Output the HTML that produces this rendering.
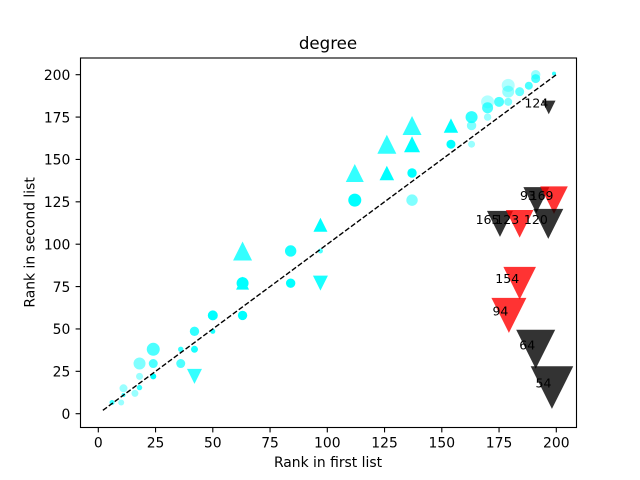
<!DOCTYPE html>
<html lang="en">
<head>
<meta charset="utf-8">
<title>degree</title>
<style>
html,body{margin:0;padding:0;background:#fff;}
svg{display:block;font-family:"DejaVu Sans","Liberation Sans",sans-serif;}
</style>
</head>
<body>
<svg id="chart" width="640" height="480" viewBox="0 0 640 480" xmlns="http://www.w3.org/2000/svg">
  <rect x="0" y="0" width="640" height="480" fill="#ffffff"/>
  <g id="marks"></g>
  <g id="labels"></g>
  <g id="axes"></g>
  <rect x="80.5" y="58" width="496" height="369.5" fill="none" stroke="#000" stroke-width="1.11"/>
  <text x="328" y="49" text-anchor="middle" font-size="16.67" fill="#000">degree</text>
  <text x="328" y="467" text-anchor="middle" font-size="13.89" fill="#000">Rank in first list</text>
  <text transform="translate(34.5,242.4) rotate(-90)" text-anchor="middle" font-size="13.89" fill="#000">Rank in second list</text>
</svg>
<script>
const xTicks = [0, 25, 50, 75, 100, 125, 150, 175, 200];
const yTicks = [0, 25, 50, 75, 100, 125, 150, 175, 200];
const referenceLine = [2, 200];

const firstRank = [6,10,11,11,16,18,18,18,24,24,24,36,36,42,42,50,50,63,63,63,63,84,84,42,97,97,97,112,112,126,126,137,137,137,137,154,154,163,163,163,170,170,170,175,179,179,179,184,188,191,191,199];
const secondRank = [6.6,6.6,15,11,12,15.4,22,29.6,22,29.6,38,29.6,38,38,48.6,48.6,58,58,77,77,96,77,96,22,96,77,111.5,126,142,159,142,170,159,142,126,170,159,159,175,170,175,180.5,184,184,184,190,193.7,190,193.5,197.7,200,200.6];
const degreeScore = [25,30,40,20,35,27,35,60,30,45,65,45,27,35,47,25,50,47,65,60,95,47,57,75,25,75,70,65,90,95,73,95,80,47,57,72,45,35,60,47,37,55,65,50,40,60,65,45,40,45,47,20];
const agreement = [80,40,40,80,40,80,40,50,100,70,70,70,80,90,80,90,100,100,100,100,80,100,90,80,70,90,100,100,80,80,100,80,100,100,50,100,100,40,80,50,40,70,30,70,50,40,30,60,70,70,40,80];
const markerKinds = ["o","o","o","o","o","o","o","o","o","o","o","o","o","o","o","o","o","o","^","o","^","o","o","v","o","v","^","o","^","^","^","^","^","o","o","^","o","o","o","o","o","o","o","o","o","o","o","o","o","o","o","o"];

const droppedFirst = [196.7,191.3,199,196.5,175.4,184,184,179.3,191,198.1];
const droppedSecond = [180.7,126,126,112,112,112,77,58,38,15.4];
const droppedScore = [68,130,138,150,130,138,163,175,195,213];
const droppedGroup = ["black","black","red","black","black","red","red","red","black","black"];
const droppedLabels = ["124","93","169","120","165","123","154","94","64","54"];

const SVG_NS = "http://www.w3.org/2000/svg";
function xScale(v) { return 98.3 + 2.29 * v; }
function yScale(v) { return 413.7 - 1.695 * v; }
function sizeScale(v) { return v / 10; }

const marksLayer = document.getElementById("marks");
const labelsLayer = document.getElementById("labels");
const axesLayer = document.getElementById("axes");

function triangle(kind, cx, cy, h) {
  const s = kind === "^" ? 1 : -1;
  const pts = [[cx, cy - s * h], [cx - h, cy + s * h], [cx + h, cy + s * h]];
  const el = document.createElementNS(SVG_NS, "polygon");
  el.setAttribute("points", pts.map(p => p.join(",")).join(" "));
  return el;
}

firstRank.forEach((rank, i) => {
  const cx = xScale(rank);
  const cy = yScale(secondRank[i]);
  const size = sizeScale(degreeScore[i]);
  let el;
  if (markerKinds[i] === "o") {
    el = document.createElementNS(SVG_NS, "circle");
    el.setAttribute("cx", cx);
    el.setAttribute("cy", cy);
    el.setAttribute("r", size);
  } else {
    el = triangle(markerKinds[i], cx, cy, size);
  }
  el.setAttribute("fill", "#00ffff");
  el.setAttribute("fill-opacity", agreement[i] / 100);
  
  
  marksLayer.appendChild(el);
});

const line = document.createElementNS(SVG_NS, "line");
line.setAttribute("x1", xScale(referenceLine[0]));
line.setAttribute("y1", yScale(referenceLine[0]));
line.setAttribute("x2", xScale(referenceLine[1]));
line.setAttribute("y2", yScale(referenceLine[1]));
line.setAttribute("stroke", "#000");
line.setAttribute("stroke-width", "1.39");
line.setAttribute("stroke-dasharray", "5.13 2.22");


marksLayer.appendChild(line);

droppedFirst.forEach((rank, i) => {
  const cx = xScale(rank);
  const cy = yScale(droppedSecond[i]);
  const el = triangle("v", cx, cy, sizeScale(droppedScore[i]));
  el.setAttribute("fill", droppedGroup[i] === "red" ? "#ff0000" : "#000000");
  el.setAttribute("fill-opacity", "0.8");
  
  
  marksLayer.appendChild(el);

  const label = document.createElementNS(SVG_NS, "text");
  label.setAttribute("x", cx - 0.5);
  label.setAttribute("y", cy);
  label.setAttribute("text-anchor", "end");
  label.setAttribute("font-size", "12.5");
  label.setAttribute("fill", "#000");
  
  
  label.textContent = droppedLabels[i];
  labelsLayer.appendChild(label);
});

xTicks.forEach(t => {
  const px = xScale(t);
  const tick = document.createElementNS(SVG_NS, "line");
  tick.setAttribute("x1", px);
  tick.setAttribute("x2", px);
  tick.setAttribute("y1", 427.5);
  tick.setAttribute("y2", 432.4);
  tick.setAttribute("stroke", "#000");
  tick.setAttribute("stroke-width", "1.11");
  
  
  axesLayer.appendChild(tick);

  const text = document.createElementNS(SVG_NS, "text");
  text.setAttribute("x", px);
  text.setAttribute("y", 447.3);
  text.setAttribute("text-anchor", "middle");
  text.setAttribute("font-size", "13.89");
  text.setAttribute("fill", "#000");
  
  
  text.textContent = t;
  axesLayer.appendChild(text);
});

yTicks.forEach(t => {
  const py = yScale(t);
  const tick = document.createElementNS(SVG_NS, "line");
  tick.setAttribute("x1", 75.6);
  tick.setAttribute("x2", 80.5);
  tick.setAttribute("y1", py);
  tick.setAttribute("y2", py);
  tick.setAttribute("stroke", "#000");
  tick.setAttribute("stroke-width", "1.11");
  
  
  axesLayer.appendChild(tick);

  const text = document.createElementNS(SVG_NS, "text");
  text.setAttribute("x", 70.3);
  text.setAttribute("y", py + 5.2);
  text.setAttribute("text-anchor", "end");
  text.setAttribute("font-size", "13.89");
  text.setAttribute("fill", "#000");
  
  
  text.textContent = t;
  axesLayer.appendChild(text);
});
</script>
</body>
</html>
